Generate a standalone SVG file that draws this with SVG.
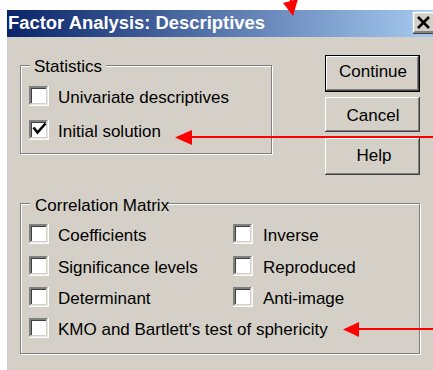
<svg xmlns="http://www.w3.org/2000/svg" xmlns:xlink="http://www.w3.org/1999/xlink" width="433" height="370" viewBox="0 0 433 370">
<style>
.lbl{font-family:"Liberation Sans",Arial,sans-serif;font-size:17px;fill:#000}
.btn{font-family:"Liberation Sans",Arial,sans-serif;font-size:17px;fill:#000;text-anchor:middle}
.ttl{font-family:"Liberation Sans",Arial,sans-serif;font-size:18px;font-weight:bold;fill:#fff}
.arrow{stroke:#f00;stroke-width:2;fill:none}
.head{fill:#f00}
</style>
<defs>
<linearGradient id="tg" x1="0" y1="0" x2="1" y2="0">
<stop offset="0" stop-color="#0A246A"/>
<stop offset="1" stop-color="#A6CAF0"/>
</linearGradient>
<g id="cb">
<rect x="0" y="0" width="20" height="20" fill="#fff"/>
<path d="M0.75 19.25V0.75H19.25" stroke="#808080" stroke-width="1.5" fill="none"/>
<path d="M2.25 17.75V2.25H17.75" stroke="#404040" stroke-width="1.5" fill="none"/>
<path d="M0 19.25H19.25V0" stroke="#fff" stroke-width="1.5" fill="none"/>
<path d="M1.5 17.75H17.75V1.5" stroke="#D4D0C8" stroke-width="1.5" fill="none"/>
</g>
</defs>
<rect width="433" height="370" fill="#fff"/>
<rect x="7" y="10" width="426" height="360" fill="#D4D0C8"/>
<g id="titlebar">
<rect x="7" y="10" width="426" height="27" fill="url(#tg)"/>
<text class="ttl" x="8" y="29" textLength="257" lengthAdjust="spacingAndGlyphs">Factor Analysis: Descriptives</text>
</g>
<g id="close">
<rect x="413" y="12" width="22" height="22" fill="#D4D0C8"/>
<path d="M413.5 34V12.5H435" stroke="#fff" stroke-width="1.5" fill="none"/>
<path d="M413 33.25H435" stroke="#404040" stroke-width="1.5" fill="none"/>
<path d="M414.5 31.75H435" stroke="#808080" stroke-width="1.5" fill="none"/>
<path d="M418 17L429 28M429 17L418 28" stroke="#000" stroke-width="2.6"/>
</g>
<g id="statistics">
<rect x="21.5" y="66.5" width="251" height="88" fill="none" stroke="#fff"/>
<rect x="20.5" y="65.5" width="251" height="88" fill="none" stroke="#808080"/>
<rect x="30" y="60" width="76" height="12" fill="#D4D0C8"/>
<text class="lbl" x="34" y="72">Statistics</text>
</g>
<g id="univariate">
<use xlink:href="#cb" x="29" y="86"/>
<text class="lbl" x="58" y="103">Univariate descriptives</text>
</g>
<g id="initial">
<use xlink:href="#cb" x="29" y="120"/>
<path d="M33.5 127.5L37.5 132.5L45.5 123.5" stroke="#000" stroke-width="2.6" fill="none"/>
<text class="lbl" x="58" y="137">Initial solution</text>
</g>
<g id="continue">
<rect x="325" y="55" width="95" height="37" fill="#000"/>
<rect x="326" y="56" width="93" height="35" fill="#404040"/>
<rect x="326" y="56" width="92" height="34" fill="#fff"/>
<rect x="327" y="57" width="91" height="33" fill="#808080"/>
<rect x="327" y="57" width="90" height="32" fill="#D4D0C8"/>
<text class="btn" x="373" y="77">Continue</text>
</g>
<g id="cancel">
<rect x="325" y="97" width="95" height="35" fill="#404040"/>
<rect x="325" y="97" width="94" height="34" fill="#fff"/>
<rect x="326" y="98" width="93" height="33" fill="#808080"/>
<rect x="326" y="98" width="92" height="32" fill="#D4D0C8"/>
<text class="btn" x="373" y="121">Cancel</text>
</g>
<g id="help">
<rect x="325" y="138" width="95" height="37" fill="#404040"/>
<rect x="325" y="138" width="94" height="36" fill="#fff"/>
<rect x="326" y="139" width="93" height="35" fill="#808080"/>
<rect x="326" y="139" width="92" height="34" fill="#D4D0C8"/>
<text class="btn" x="374" y="161">Help</text>
</g>
<g id="correlation">
<rect x="21.5" y="204.5" width="399" height="150" fill="none" stroke="#fff"/>
<rect x="20.5" y="203.5" width="399" height="150" fill="none" stroke="#808080"/>
<rect x="30" y="198" width="138" height="12" fill="#D4D0C8"/>
<text class="lbl" x="35" y="211">Correlation Matrix</text>
</g>
<g id="coefficients">
<use xlink:href="#cb" x="29" y="224"/>
<text class="lbl" x="58" y="241">Coefficients</text>
</g>
<g id="inverse">
<use xlink:href="#cb" x="233" y="224"/>
<text class="lbl" x="263" y="241">Inverse</text>
</g>
<g id="significance">
<use xlink:href="#cb" x="29" y="256"/>
<text class="lbl" x="58" y="273">Significance levels</text>
</g>
<g id="reproduced">
<use xlink:href="#cb" x="233" y="256"/>
<text class="lbl" x="263" y="273">Reproduced</text>
</g>
<g id="determinant">
<use xlink:href="#cb" x="29" y="287"/>
<text class="lbl" x="58" y="304">Determinant</text>
</g>
<g id="antiimage">
<use xlink:href="#cb" x="233" y="287"/>
<text class="lbl" x="263" y="304">Anti-image</text>
</g>
<g id="kmo">
<use xlink:href="#cb" x="29" y="318"/>
<text class="lbl" x="58" y="335">KMO and Bartlett's test of sphericity</text>
</g>
<g id="connectors">
<path class="arrow" d="M291 -20L291 2"/>
<polygon class="head" points="283,3 298,-1 293,16"/>
<path class="arrow" d="M433 137H188"/>
<polygon class="head" points="175,137.5 192,130 192,145"/>
<path class="arrow" d="M433 329H356"/>
<polygon class="head" points="343,329.5 359,322 359,337"/>
</g>
</svg>
